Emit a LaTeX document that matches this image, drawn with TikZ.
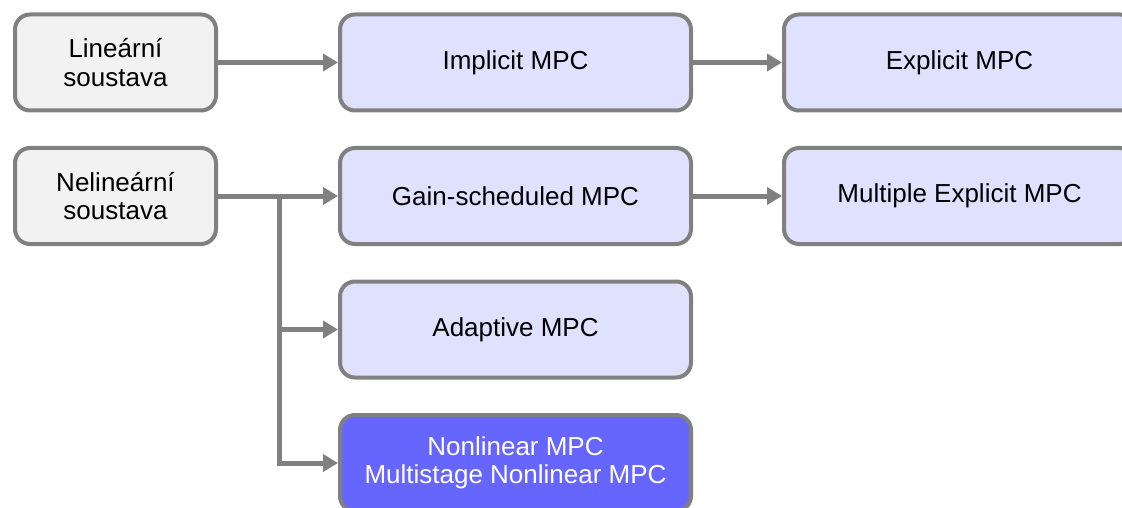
\documentclass[tikz,border=0pt]{standalone}
\usepackage{fontspec}
\setmainfont{Liberation Sans}
\usetikzlibrary{arrows.meta}
\definecolor{edgegray}{RGB}{128,128,128}
\definecolor{plantfill}{RGB}{242,242,242}
\definecolor{mpcfill}{RGB}{224,224,255}
\definecolor{nmpcfill}{RGB}{102,102,255}
\begin{document}
\begin{tikzpicture}[x=1pt,y=-1pt,
  box/.style={draw=edgegray, line width=4pt, rounded corners=15pt,
    minimum height=96pt, align=center, inner sep=0pt,
    font=\fontsize{26}{28.5}\selectfont},
  plant/.style={box, fill=plantfill, minimum width=201pt},
  mpc/.style={box, fill=mpcfill, minimum width=351pt},
  nmpc/.style={box, fill=nmpcfill, minimum width=351pt, text=white},
  link/.style={draw=edgegray, line width=5pt,
    -{Triangle[length=15pt,width=17pt]}}]
\useasboundingbox (0,0) rectangle (1122,508);
\clip (0,0) rectangle (1122,508);
% plant models
\node[plant] (lin) at (115.5,62.5) {Lineární\\soustava};
\node[plant] (nlin) at (115.5,196) {Nelineární\\soustava};
% controllers
\node[mpc] (imp) at (515.5,62.5) {Implicit MPC};
\node[mpc] (exp) at (959.5,62.5) {Explicit MPC};
\node[mpc] (gs) at (515.5,196) {Gain-scheduled MPC};
\node[mpc] (mexp) at (959.5,196) {Multiple Explicit MPC};
\node[mpc] (ad) at (515.5,329.5) {Adaptive MPC};
\node[nmpc] (nm) at (515.5,463) {Nonlinear MPC\\Multistage Nonlinear MPC};
% connectors
\coordinate (split) at (279,196);
\draw[link] (lin.east) -- (imp.west);
\draw[link] (imp.east) -- (exp.west);
\draw[link] (nlin.east) -- (gs.west);
\draw[link] (gs.east) -- (mexp.west);
\draw[link] (split) |- (ad.west);
\draw[link] (split) |- (nm.west);
\end{tikzpicture}
\end{document}
